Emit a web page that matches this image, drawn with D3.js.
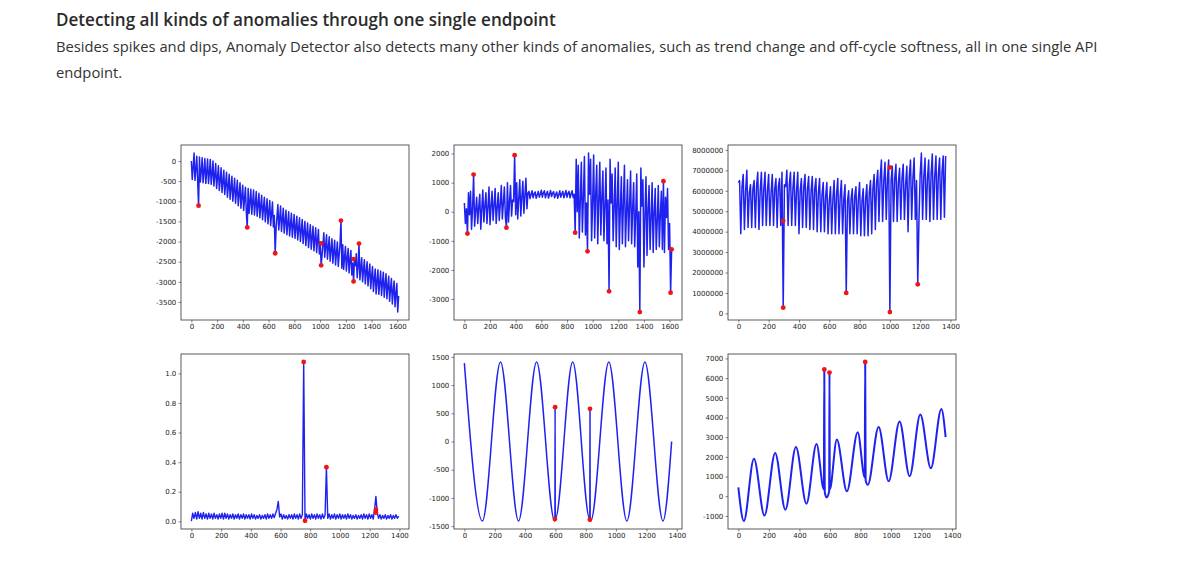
<!DOCTYPE html>
<html>
<head>
<meta charset="utf-8">
<script src="https://cdn.jsdelivr.net/npm/d3@7"></script>
<style>
  html, body { margin: 0; padding: 0; background: #fff; }
  svg { display: block; }
</style>
</head>
<body>
<svg id="chart" width="1200" height="569"></svg>
<script>
// ---------- data ----------

// panel 1: downward trend with weekly spikes, one sample every 7 steps
const p1Step = 7;
const p1Values = [
  0, -460, -150, 200, -480, -200, 120, -500, -1110, 100, -520, -250,
  80, -540, -260, 60, -560, -280, 50, -560, -300, 40, -580, -320,
  0, -620, -360, -60, -680, -420, -120, -730, -470, -170, -780, -520,
  -230, -830, -570, -280, -900, -630, -330, -950, -680, -380, -1000, -730,
  -430, -1050, -780, -480, -1110, -830, -540, -1170, -880, -600, -1230, -940,
  -650, -1280, -1650, -680, -1300, -1010, -700, -1320, -1030, -720, -1340, -1060,
  -760, -1370, -1090, -800, -1410, -1120, -850, -1460, -1170, -900, -1510, -1220,
  -940, -1560, -1270, -980, -1600, -1310, -1020, -1640, -1350, -2290, -1680, -1380,
  -1080, -1710, -1420, -1120, -1750, -1460, -1170, -1790, -1500, -1220, -1830, -1550,
  -1260, -1860, -1590, -1300, -1890, -1620, -1330, -1920, -1650, -1370, -1960, -1690,
  -1410, -2000, -1730, -1450, -2050, -1770, -1500, -2100, -1820, -1540, -2150, -1860,
  -1580, -2190, -1900, -1620, -2230, -1940, -1660, -2270, -1980, -1700, -2310, -2010,
  -2590, -2350, -2060, -1780, -2390, -2100, -1830, -2440, -2150, -1880, -2490, -2200,
  -1930, -2540, -2250, -1970, -2580, -2290, -2010, -2620, -2330, -2050, -1480, -2660,
  -2080, -2690, -2390, -2120, -2730, -2430, -2170, -2780, -2480, -2220, -2830, -2530,
  -2990, -2440, -2600, -2300, -2900, -2620, -2050, -2950, -2660, -2400, -3000, -2700,
  -2450, -3050, -2750, -2500, -3100, -2800, -2560, -3170, -2870, -2620, -3240, -2940,
  -2680, -3300, -2990, -2700, -3310, -3010, -2730, -3340, -3040, -2760, -3380, -3070,
  -2800, -3420, -3110, -2860, -3480, -3170, -2920, -3550, -3230, -2980, -3620, -3290,
  -3040, -3750, -3350
];
const p1AnomX = [56, 434, 651, 1008, 1008, 1162, 1260, 1260, 1302];
const p1AnomY = [-1110, -1650, -2290, -2045, -2590, -1480, -2434, -2990, -2050];

// panel 2: noisy level with a calm stretch in the middle, one sample every 8 steps
const p2Step = 8;
const p2Values = [
  300, -400, 100, -752, 650, -100, 700, -600, 100, 1278, -500, 50,
  500, -400, 150, 600, -600, 100, 750, -350, 200, 650, -400, 150,
  850, -450, 200, 700, -300, 250, 800, -400, 150, 650, -300, 250,
  900, -250, 300, 850, -200, -546, 1000, -350, 350, 900, -150, 400,
  350, 1943, -100, 1000, -250, 450, 1100, -150, 500, 1050, -50, 550,
  1150, 100, 650, 700, 450, 600, 720, 480, 620, 680, 460, 580,
  700, 500, 600, 740, 500, 640, 720, 480, 620, 700, 470, 600,
  730, 520, 640, 690, 480, 590, 680, 460, 580, 720, 500, 620,
  700, 480, 600, 730, 500, 630, 700, 480, 610, 720, 490, 600,
  -718, 1800, 0, 1600, -900, 400, 1700, -700, 500, 1900, -800, 300,
  -1360, 2020, 600, 1800, -1000, 300, 1950, -900, 600, 1600, -1100, 400,
  1700, -800, 500, 1400, -1000, 200, 1500, -1100, 400, -2736, 1800, 300,
  1300, -1000, 200, 1500, -1200, 300, 1700, -1300, 100, 1200, -1100, 300,
  1600, -1200, 0, 1100, -1000, 200, 1400, -1100, 100, 1000, -1200, -100,
  1300, -1900, 0, -3447, 1500, 200, 1100, -1900, -100, 1200, -1500, 100,
  900, -1300, -200, 1000, -1400, 0, 800, -1300, -300, 900, -1200, -100,
  700, -1300, 1048, -1400, 500, -200, 800, -1300, -400, -2782, -1291
];
const p2AnomX = [24, 72, 328, 392, 864, 960, 1128, 1368, 1552, 1608, 1616];
const p2AnomY = [-752, 1278, -546, 1943, -718, -1360, -2736, -3447, 1048, -2782, -1291];

// panel 3: weekly traffic, in millions, one sample every 8 steps
const p3Step = 8;
const p3Millions = [
  6.4, 6.5, 3.9, 6.2, 6.8, 4.1, 6.0, 7.0, 4.2, 5.9, 6.3, 4.2,
  6.1, 6.5, 4.2, 6.2, 6.9, 4.1, 6.0, 6.9, 4.3, 6.1, 6.9, 4.3,
  6.0, 6.8, 4.3, 5.9, 6.8, 4.3, 6.1, 6.6, 4.2, 6.2, 6.6, 4.3,
  6.9, 0.28, 6.3, 6.2, 7.0, 4.3, 6.3, 6.9, 4.3, 6.1, 6.9, 4.3,
  6.0, 6.9, 3.9, 6.0, 6.6, 4.2, 6.2, 6.8, 4.2, 6.1, 6.7, 4.1,
  6.0, 6.7, 4.1, 6.1, 6.6, 4.0, 5.9, 6.6, 4.0, 5.8, 6.4, 4.0,
  5.7, 6.4, 3.9, 5.5, 6.2, 3.9, 5.6, 6.5, 3.9, 5.8, 6.6, 3.9,
  5.7, 6.5, 3.9, 5.6, 6.3, 1.0, 5.5, 6.0, 3.9, 5.6, 6.1, 3.9,
  5.7, 6.2, 3.9, 5.6, 6.4, 3.8, 5.5, 6.1, 3.8, 5.6, 6.3, 3.8,
  5.9, 6.5, 3.9, 6.1, 6.8, 4.1, 6.4, 7.0, 4.5, 6.6, 7.5, 4.5,
  6.5, 7.4, 4.6, 6.6, 7.5, 0.065, 6.5, 7.2, 4.5, 6.6, 7.3, 4.5,
  6.4, 7.1, 4.6, 6.6, 7.3, 4.6, 6.3, 7.2, 4.0, 6.7, 7.5, 4.6,
  6.6, 7.6, 4.6, 6.5, 1.42, 4.6, 6.8, 7.85, 4.6, 6.7, 7.6, 4.6,
  6.6, 7.5, 4.5, 6.8, 7.8, 4.6, 6.7, 7.7, 4.6, 6.8, 7.6, 4.6,
  6.9, 7.7, 4.7, 7.7
];
const p3AnomX = [296, 296, 712, 1000, 1000, 1184];
const p3AnomY = [4.53, 0.28, 1.0, 7.14, 0.065, 1.42];

// panel 4: small ripple with a few spikes, one sample every 9 steps
const p4Step = 9;
const p4Values = [
  0.002, 0.055, 0.020, 0.060, 0.015, 0.065, 0.020, 0.055, 0.015, 0.060, 0.020, 0.050,
  0.015, 0.055, 0.020, 0.050, 0.015, 0.055, 0.020, 0.045, 0.015, 0.050, 0.020, 0.055,
  0.015, 0.055, 0.020, 0.050, 0.015, 0.045, 0.020, 0.050, 0.015, 0.045, 0.020, 0.050,
  0.015, 0.045, 0.020, 0.050, 0.015, 0.045, 0.020, 0.045, 0.015, 0.050, 0.020, 0.045,
  0.015, 0.040, 0.020, 0.045, 0.015, 0.040, 0.020, 0.045, 0.015, 0.050, 0.020, 0.045,
  0.020, 0.050, 0.025, 0.055, 0.080, 0.135, 0.030, 0.050, 0.015, 0.045, 0.020, 0.040,
  0.015, 0.045, 0.020, 0.045, 0.015, 0.050, 0.020, 0.045, 0.015, 0.050, 0.020, 0.045,
  1.077, 0.004, 0.050, 0.020, 0.045, 0.015, 0.050, 0.020, 0.045, 0.015, 0.050, 0.020,
  0.045, 0.015, 0.050, 0.020, 0.045, 0.366, 0.020, 0.050, 0.015, 0.045, 0.020, 0.050,
  0.015, 0.045, 0.020, 0.050, 0.015, 0.045, 0.020, 0.045, 0.015, 0.050, 0.020, 0.045,
  0.015, 0.040, 0.020, 0.045, 0.015, 0.040, 0.020, 0.045, 0.015, 0.050, 0.020, 0.045,
  0.015, 0.050, 0.020, 0.045, 0.015, 0.079, 0.169, 0.059, 0.020, 0.045, 0.015, 0.040,
  0.020, 0.045, 0.015, 0.040, 0.020, 0.045, 0.015, 0.040, 0.020, 0.045, 0.020, 0.035
];
const p4AnomX = [756, 765, 909, 1242, 1242];
const p4AnomY = [1.077, 0.004, 0.366, 0.079, 0.059];

// panel 5: clean sine, peaks and troughs plus the two injected spikes
const p5X = [0, 119, 238, 357, 476, 595, 597, 598, 599, 714, 827, 828, 829, 833, 952, 1071, 1190, 1309, 1366];
const p5Y = [1390, -1410, 1410, -1410, 1410, -1410, -1375, 608, -1375, 1410, -1385, 580, -1385, -1410, 1410, -1410, 1410, -1410, 0];
const p5AnomX = [598, 597, 828, 827];
const p5AnomY = [608, -1375, 580, -1385];

// panel 6: rising seasonal wave, peaks and troughs plus three spikes
const p6X = [0, 36, 102, 171, 241, 308, 377, 446, 512, 560, 563, 566, 578, 595, 597, 599,
  645, 711, 782, 828, 831, 834, 848, 919, 985, 1056, 1122, 1192, 1261, 1330, 1358];
const p6Y = [450, -1260, 1900, -980, 2200, -680, 2500, -380, 2650, 350, 6440, 200, -60, 250, 6280, 350,
  2880, 250, 3250, 950, 6820, 800, 580, 3520, 760, 3800, 1020, 4150, 1420, 4430, 3000];
const p6AnomX = [563, 597, 831];
const p6AnomY = [6440, 6280, 6820];

// tick values
const ticks0to1600 = [0, 200, 400, 600, 800, 1000, 1200, 1400, 1600];
const ticks0to1400 = [0, 200, 400, 600, 800, 1000, 1200, 1400];
const p1YTicks = [0, -500, -1000, -1500, -2000, -2500, -3000, -3500];
const p2YTicks = [2000, 1000, 0, -1000, -2000, -3000];
const p3YTicks = [0, 1, 2, 3, 4, 5, 6, 7, 8];
const p4YTicks = [0, 0.2, 0.4, 0.6, 0.8, 1.0];
const p5YTicks = [1500, 1000, 500, 0, -500, -1000, -1500];
const p6YTicks = [7000, 6000, 5000, 4000, 3000, 2000, 1000, 0, -1000];

// ---------- drawing ----------
const svg = d3.select("#chart");
const W = 228, H = 175;
const blue = "#1f22ee", red = "#f01515";

const stepX = (vals, step) => vals.map((v, i) => i * step);
const intFmt = d => String(d);

//heading texts, sized so their widths match the page
function fitText(sel, target) {
  const w = sel.node().getComputedTextLength();
  const fs = parseFloat(sel.attr("font-size")) * target / w;
  sel.attr("font-size", fs);
  return fs;
}

const title = svg.append("text")
  .attr("x", 56).attr("y", 26)
  .attr("font-family", "'Segoe UI', 'Open Sans', sans-serif")
  .attr("font-weight", 600)
  .attr("font-size", 17)
  .attr("fill", "#2b2b2b")
  .text("Detecting all kinds of anomalies through one single endpoint");
fitText(title, 500);

const body1 = svg.append("text")
  .attr("x", 56).attr("y", 52)
  .attr("font-family", "'Segoe UI', 'Open Sans', sans-serif")
  .attr("font-size", 15.5)
  .attr("fill", "#333")
  .text("Besides spikes and dips, Anomaly Detector also detects many other kinds of anomalies, such as trend change and off-cycle softness, all in one single API");
const bodySize = fitText(body1, 1042);

svg.append("text")
  .attr("x", 56).attr("y", 78)
  .attr("font-family", "'Segoe UI', 'Open Sans', sans-serif")
  .attr("font-size", bodySize)
  .attr("fill", "#333")
  .text("endpoint.");

function drawPanel(cfg) {
  const xExt = d3.extent(cfg.xs);
  const yExt = d3.extent(cfg.ys.concat(cfg.ay));
  const xPad = (xExt[1] - xExt[0]) * 0.05;
  const yPad = (yExt[1] - yExt[0]) * 0.05;

  const x = d3.scaleLinear().domain([xExt[0] - xPad, xExt[1] + xPad]).range([0, W]);
  const y = d3.scaleLinear().domain([yExt[0] - yPad, yExt[1] + yPad]).range([H, 0]);

  const g = svg.append("g").attr("transform", `translate(${cfg.left},${cfg.top})`);

  //series line
  const line = d3.line()
    .x((d, i) => x(cfg.xs[i]))
    .y(d => y(d))
    .curve(cfg.curve || d3.curveLinear);

  g.append("path")
    .datum(cfg.ys)
    .attr("d", line)
    .attr("fill", "none")
    .attr("stroke", blue)
    .attr("stroke-width", cfg.lineWidth)
    .attr("stroke-linejoin", "round");

  //anomaly markers
  g.selectAll("circle")
    .data(cfg.ax)
    .enter()
    .append("circle")
    .attr("cx", d => x(d))
    .attr("cy", (d, i) => y(cfg.ay[i]))
    .attr("r", 2.4)
    .attr("fill", red);

  //axes
  const xAxis = g.append("g")
    .attr("transform", `translate(0,${H})`)
    .call(d3.axisBottom(x).tickValues(cfg.xTicks).tickSize(2.5).tickPadding(1.8).tickFormat(intFmt));

  const yAxis = g.append("g")
    .call(d3.axisLeft(y).tickValues(cfg.yTicks).tickSize(2.5).tickPadding(2.2).tickFormat(cfg.yFormat || intFmt));

  [xAxis, yAxis].forEach(a => {
    a.attr("font-size", 7).attr("font-family", "'DejaVu Sans', sans-serif");
    a.select(".domain").remove();
    a.selectAll("line").attr("stroke", "#333").attr("stroke-width", 0.6);
    a.selectAll("text").attr("fill", "#222");
  });

  //frame
  g.append("rect")
    .attr("width", W)
    .attr("height", H)
    .attr("fill", "none")
    .attr("stroke", "#333")
    .attr("stroke-width", 0.8);
}

const colLeft = [181, 454, 728];
const rowTop = [145, 354];

drawPanel({ left: colLeft[0], top: rowTop[0], xs: stepX(p1Values, p1Step), ys: p1Values,
  ax: p1AnomX, ay: p1AnomY, xTicks: ticks0to1600, yTicks: p1YTicks, lineWidth: 1.5 });

drawPanel({ left: colLeft[1], top: rowTop[0], xs: stepX(p2Values, p2Step), ys: p2Values,
  ax: p2AnomX, ay: p2AnomY, xTicks: ticks0to1600, yTicks: p2YTicks, lineWidth: 1.5 });

drawPanel({ left: colLeft[2], top: rowTop[0], xs: stepX(p3Millions, p3Step), ys: p3Millions,
  ax: p3AnomX, ay: p3AnomY, xTicks: ticks0to1400, yTicks: p3YTicks, lineWidth: 1.5,
  yFormat: d => String(d * 1000000) });

drawPanel({ left: colLeft[0], top: rowTop[1], xs: stepX(p4Values, p4Step), ys: p4Values,
  ax: p4AnomX, ay: p4AnomY, xTicks: ticks0to1400, yTicks: p4YTicks, lineWidth: 1.4,
  yFormat: d => d.toFixed(1) });

drawPanel({ left: colLeft[1], top: rowTop[1], xs: p5X, ys: p5Y,
  ax: p5AnomX, ay: p5AnomY, xTicks: ticks0to1400, yTicks: p5YTicks,
  curve: d3.curveMonotoneX, lineWidth: 1.5 });

drawPanel({ left: colLeft[2], top: rowTop[1], xs: p6X, ys: p6Y,
  ax: p6AnomX, ay: p6AnomY, xTicks: ticks0to1400, yTicks: p6YTicks,
  curve: d3.curveMonotoneX, lineWidth: 2 });
</script>
</body>
</html>
